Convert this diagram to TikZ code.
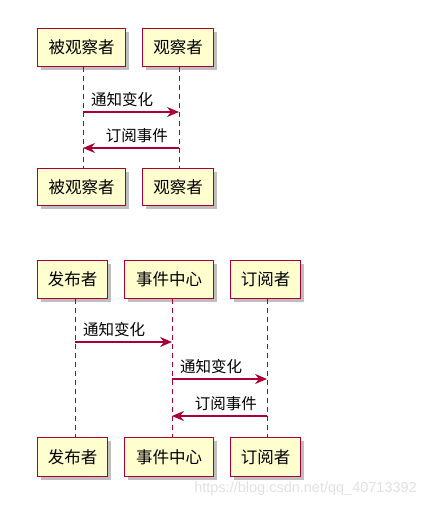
\documentclass[tikz,border=0pt]{standalone}
\usepackage{fontspec}
\setmainfont{Noto Sans CJK SC}
\newfontfamily\wmfont{Liberation Sans}
\usetikzlibrary{arrows.meta,shadows}
\definecolor{pumlred}{HTML}{A80036}
\definecolor{pumlfill}{HTML}{FEFECE}
\tikzset{
  part/.style={draw=pumlred, line width=1.3pt, fill=pumlfill, inner sep=0pt,
    font=\fontsize{16.5}{16.5}\selectfont, anchor=north west,
    drop shadow={shadow xshift=3.5pt, shadow yshift=-3.5pt, fill=black, opacity=0.25}},
  life/.style={draw=pumlred, dashed, dash pattern=on 5pt off 4pt, line width=0.9pt},
  msg/.style={draw=pumlred, line width=1.1pt, -{Stealth[length=12pt,width=10pt,inset=4pt]}},
  lbl/.style={font=\fontsize{15.5}{15.5}\selectfont, inner sep=0pt}
}
\begin{document}
\begin{tikzpicture}[x=1pt,y=-1pt]
\useasboundingbox (0,0) rectangle (426,507);
% ---- top diagram ----
\node[part, minimum width=88pt, minimum height=38pt] (a1) at (37,28) {被观察者};
\node[part, minimum width=71pt, minimum height=38pt] (b1) at (142,28) {观察者};
\node[part, minimum width=88pt, minimum height=37pt] (a2) at (37,168) {被观察者};
\node[part, minimum width=71pt, minimum height=37pt] (b2) at (142,168) {观察者};
\coordinate (la) at (83,0);
\coordinate (lb) at (179,0);
\draw[life] (la |- a1.south) -- (la |- a2.north);
\draw[life] (lb |- b1.south) -- (lb |- b2.north);
\coordinate (m1s) at (83,112); \coordinate (m1e) at (179,112);
\draw[msg] (m1s) -- (m1e);
\node[lbl, anchor=south west] (t1) at (91,107) {通知变化};
\coordinate (m2s) at (179,148); \coordinate (m2e) at (83,148);
\draw[msg] (m2s) -- (m2e);
\node[lbl, anchor=south east] (t2) at (168,143) {订阅事件};
% ---- bottom diagram ----
\node[part, minimum width=70pt, minimum height=38pt] (p1) at (37,260) {发布者};
\node[part, minimum width=89pt, minimum height=38pt] (c1) at (124,260) {事件中心};
\node[part, minimum width=70pt, minimum height=38pt] (s1) at (230,260) {订阅者};
\node[part, minimum width=70pt, minimum height=39pt] (p2) at (37,437) {发布者};
\node[part, minimum width=89pt, minimum height=39pt] (c2) at (124,437) {事件中心};
\node[part, minimum width=70pt, minimum height=39pt] (s2) at (230,437) {订阅者};
\coordinate (lp) at (75,0);
\coordinate (lc) at (172,0);
\coordinate (ls) at (267,0);
\draw[life] (lp |- p1.south) -- (lp |- p2.north);
\draw[life] (lc |- c1.south) -- (lc |- c2.north);
\draw[life] (ls |- s1.south) -- (ls |- s2.north);
\coordinate (n1s) at (75,342); \coordinate (n1e) at (172,342);
\draw[msg] (n1s) -- (n1e);
\node[lbl, anchor=south west] (u1) at (83,337) {通知变化};
\coordinate (n2s) at (172,379); \coordinate (n2e) at (267,379);
\draw[msg] (n2s) -- (n2e);
\node[lbl, anchor=south west] (u2) at (180,374) {通知变化};
\coordinate (n3s) at (267,416); \coordinate (n3e) at (172,416);
\draw[msg] (n3s) -- (n3e);
\node[lbl, anchor=south east] (u3) at (257,411) {订阅事件};
% watermark
\node[font=\wmfont\fontsize{14.5}{14.5}\selectfont, text=black!12, anchor=east, inner sep=0pt] (wm) at (417,489) {https://blog.csdn.net/qq\_40713392};
\end{tikzpicture}
\end{document}
